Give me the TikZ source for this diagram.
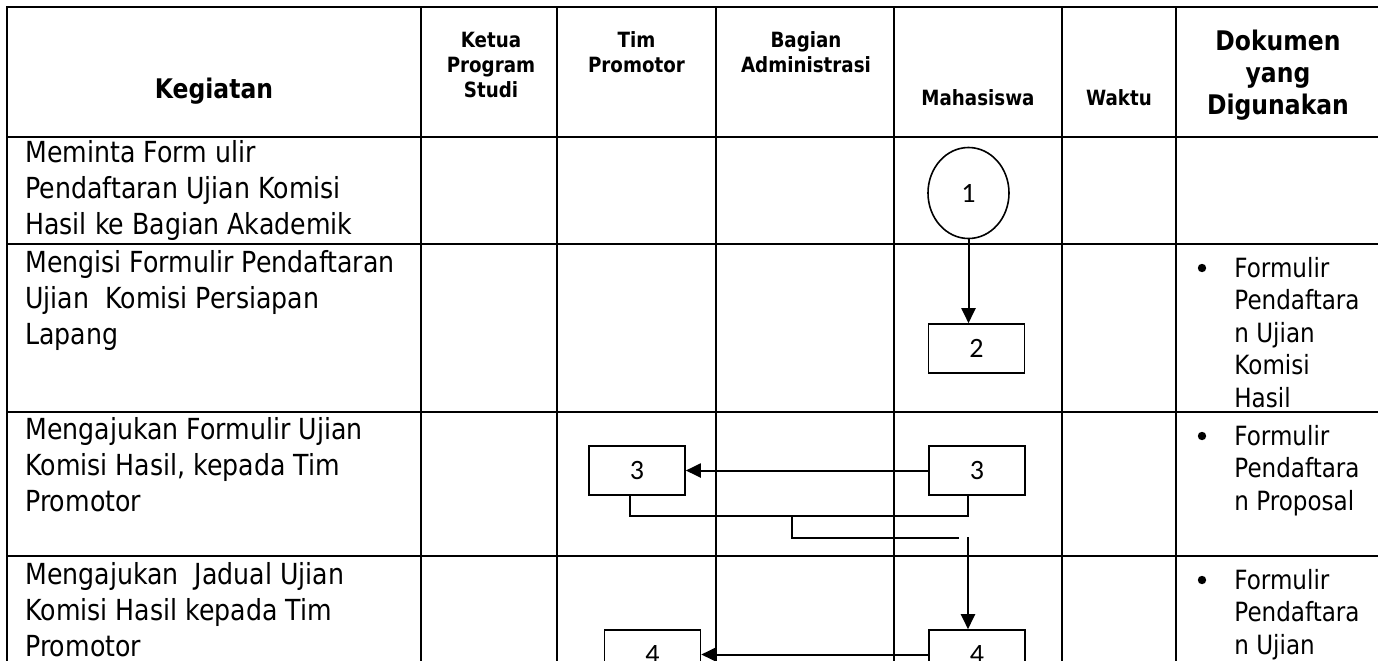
\documentclass[tikz,border=0pt]{standalone}
\usepackage{fontspec}
\setmainfont[FakeStretch=0.87]{DejaVu Sans}
\newfontfamily\numfont{Carlito}
\usetikzlibrary{arrows.meta,shapes.geometric}
\tikzset{
  tbl/.style={line width=1.1pt},
  numbox/.style={draw, line width=0.8pt, minimum width=48pt, minimum height=24.5pt, inner sep=0pt, font=\numfont\fontsize{14}{16}\selectfont},
  numcirc/.style={draw, ellipse, line width=0.8pt, minimum width=40.5pt, minimum height=45.5pt, inner sep=0pt, font=\numfont\fontsize{14}{16}\selectfont},
  arr/.style={line width=1pt, -{Triangle[length=7.5pt,width=7pt]}},
  conn/.style={line width=0.8pt},
  bodytxt/.style={anchor=base west, inner sep=0pt, font=\fontsize{14.5}{18}\selectfont},
  doctxt/.style={anchor=base west, inner sep=0pt, font=\fontsize{13.25}{16.25}\selectfont},
  smallhead/.style={anchor=base, inner sep=0pt, font=\bfseries\fontsize{10.5}{12.5}\selectfont},
  bighead/.style={anchor=base, inner sep=0pt, font=\bfseries\fontsize{13.5}{16}\selectfont},
}
\begin{document}
\begin{tikzpicture}[x=0.5pt, y=-0.5pt]
\clip (0,0) rectangle (1378,660);
% table grid
\draw[tbl] (7,800) -- (7,7) -- (1500,7);
\foreach \yy in {137,244,412,556} \draw[tbl] (7,\yy) -- (1500,\yy);
\foreach \xx in {421,557,716,894,1062,1176} \draw[tbl] (\xx,7) -- (\xx,800);
% header
\node[bighead] (hkeg) at (214,98) {Kegiatan};
\node[smallhead] (hketua) at (491,47) {\parbox[t]{120pt}{\centering Ketua\\Program\\Studi}};
\node[smallhead] (htim) at (636.5,47) {\parbox[t]{120pt}{\centering Tim\\Promotor}};
\node[smallhead] (hbag) at (806,47) {\parbox[t]{120pt}{\centering Bagian\\Administrasi}};
\node[smallhead] (hmhs) at (978,105) {Mahasiswa};
\node[smallhead] (hwkt) at (1119,105) {Waktu};
\node[bighead] (hdok) at (1278,50) {\parbox[t]{150pt}{\centering Dokumen\\yang\\Digunakan}};
% kegiatan column
\node[bodytxt] (k1) at (25,162) {\parbox[t]{250pt}{\raggedright Meminta Form ulir\\Pendaftaran Ujian Komisi\\Hasil ke Bagian Akademik}};
\node[bodytxt] (k2) at (25,272) {\parbox[t]{250pt}{\raggedright Mengisi Formulir Pendaftaran\\Ujian\ \ Komisi Persiapan\\Lapang}};
\node[bodytxt] (k3) at (25,439) {\parbox[t]{250pt}{\raggedright Mengajukan Formulir Ujian\\Komisi Hasil, kepada Tim\\Promotor}};
\node[bodytxt] (k4) at (25,584) {\parbox[t]{250pt}{\raggedright Mengajukan\ \ Jadual Ujian\\Komisi Hasil kepada Tim\\Promotor}};
% dokumen column
\fill (1202,268) circle (2.1pt);
\node[doctxt] (d2) at (1234,277) {\parbox[t]{100pt}{\raggedright Formulir\\Pendaftara\\n Ujian\\Komisi\\Hasil}};
\fill (1202,436) circle (2.1pt);
\node[doctxt] (d3) at (1234,445) {\parbox[t]{100pt}{\raggedright Formulir\\Pendaftara\\n Proposal}};
\fill (1202,580) circle (2.1pt);
\node[doctxt] (d4) at (1234,589) {\parbox[t]{100pt}{\raggedright Formulir\\Pendaftara\\n Ujian}};
% flow
\node[numcirc] (c1) at (968.5,193) {1};
\node[numbox] (b2) at (976.5,348.5) {2};
\node[numbox] (b3r) at (977,470.5) {3};
\node[numbox] (b3l) at (637,470.5) {3};
\node[numbox] (b4l) at (652.5,654.5) {4};
\node[numbox] (b4r) at (977,654.5) {4};
\draw[arr] (c1.south) -- (c1.south |- b2.north);
\draw[arr] (b3r.west) -- (b3l.east);
\draw[conn] ([xshift=-3.5pt]b3l.south) -- ++(0,20) -| ([xshift=-4.5pt]b3r.south);
\coordinate (brA) at (792,515);
\coordinate (brB) at (959,538);
\draw[conn] (brA) |- (brB);
\coordinate (a3) at (968,537);
\draw[arr] (a3) -- (a3 |- b4r.north);
\draw[arr] (b4r.west) -- (b4l.east);
\end{tikzpicture}
\end{document}
